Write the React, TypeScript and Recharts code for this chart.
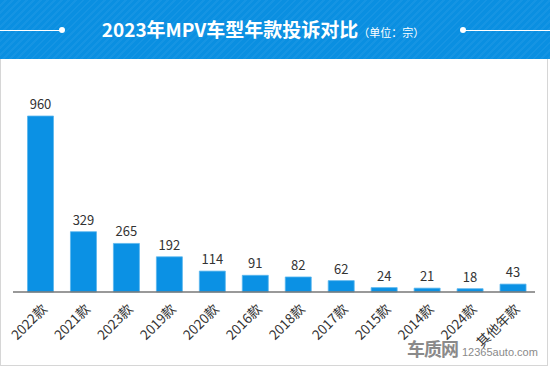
import React from 'react';
import { BarChart, Bar, XAxis, YAxis, LabelList } from 'recharts';

const categories = ['2022款', '2021款', '2023款', '2019款', '2020款', '2016款', '2018款', '2017款', '2015款', '2014款', '2024款', '其他年款'];
const complaints = [960, 329, 265, 192, 114, 91, 82, 62, 24, 21, 18, 43];
const title = '2023年MPV车型年款投诉对比';
const unit = '（单位：宗）';

const data = categories.map((c, i) => ({ name: c, value: complaints[i] }));

const FONT = '"Noto Sans CJK SC", "Noto Sans", sans-serif';

const Tick = (props: any) => {
  const { x, y, payload } = props;
  return (
    <text
      x={x + 7}
      y={y + 10}
      transform={`rotate(-45, ${x + 7}, ${y + 10})`}
      textAnchor="end"
      fontSize={13.5}
      fill="#333"
      fontFamily={FONT}
    >
      {payload.value}
    </text>
  );
};

export default function App() {
  return (
    <div style={{ position: 'absolute', left: 0, top: 0, width: 550, height: 368, background: '#fff', overflow: 'hidden' }}>
      <div
        style={{
          position: 'absolute', left: 0, top: 0, width: 550, height: 59,
          background: 'repeating-linear-gradient(135deg, #0a8fe1 0px, #0a8fe1 3px, #1594e3 3px, #1594e3 5px)',
        }}
      />
      <div style={{ position: 'absolute', left: 0, top: 29.5, width: 62, height: 1.5, background: '#fff' }} />
      <div style={{ position: 'absolute', left: 59, top: 27, width: 6, height: 6, borderRadius: 3, background: '#fff' }} />
      <div style={{ position: 'absolute', left: 465, top: 29.5, width: 85, height: 1.5, background: '#fff' }} />
      <div style={{ position: 'absolute', left: 460, top: 27, width: 6, height: 6, borderRadius: 3, background: '#fff' }} />
      <div
        style={{
          position: 'absolute', left: 0, top: 14, width: 550, textAlign: 'center', color: '#fff',
          fontFamily: FONT, whiteSpace: 'nowrap', lineHeight: '30px',
        }}
      >
        <span style={{ fontSize: 19, fontWeight: 700, marginLeft: -24 }}>{title}</span>
        <span style={{ fontSize: 11 }}>{unit}</span>
      </div>
      <div style={{ position: 'absolute', left: 0, top: 59, width: 548, height: 307, borderLeft: '1.5px solid #d6d6d6', borderRight: '1.5px solid #d6d6d6', borderBottom: '1.5px solid #d6d6d6', boxSizing: 'border-box' }} />
      <div style={{ position: 'absolute', left: 0, top: 0 }}>
        <BarChart width={550} height={368} data={data} margin={{ top: 108.7, right: 15, bottom: 0, left: 13 }}>
          <XAxis
            dataKey="name"
            height={76}
            interval={0}
            tickLine={false}
            axisLine={{ stroke: '#777', strokeWidth: 1.5 }}
            tick={<Tick />}
            padding={{ left: 6.5, right: 0 }}
          />
          <YAxis hide domain={[0, 1000]} />
          <Bar dataKey="value" fill="#0b91e4" stroke="#5ab6ee" strokeWidth={0.8} barSize={26} isAnimationActive={false}>
            <LabelList dataKey="value" position="top" offset={7} fontSize={13} fill="#333" fontFamily={FONT} />
          </Bar>
        </BarChart>
      </div>
      <div style={{ position: 'absolute', left: 407, top: 335, fontFamily: FONT, color: '#8a8a8a', whiteSpace: 'nowrap', lineHeight: '26px' }}>
        <span style={{ fontSize: 18, fontWeight: 700, letterSpacing: -1 }}>车质网</span>
        <span style={{ fontSize: 11, marginLeft: 4, fontFamily: 'Arial, "Liberation Sans", sans-serif' }}>12365auto.com</span>
      </div>
    </div>
  );
}
